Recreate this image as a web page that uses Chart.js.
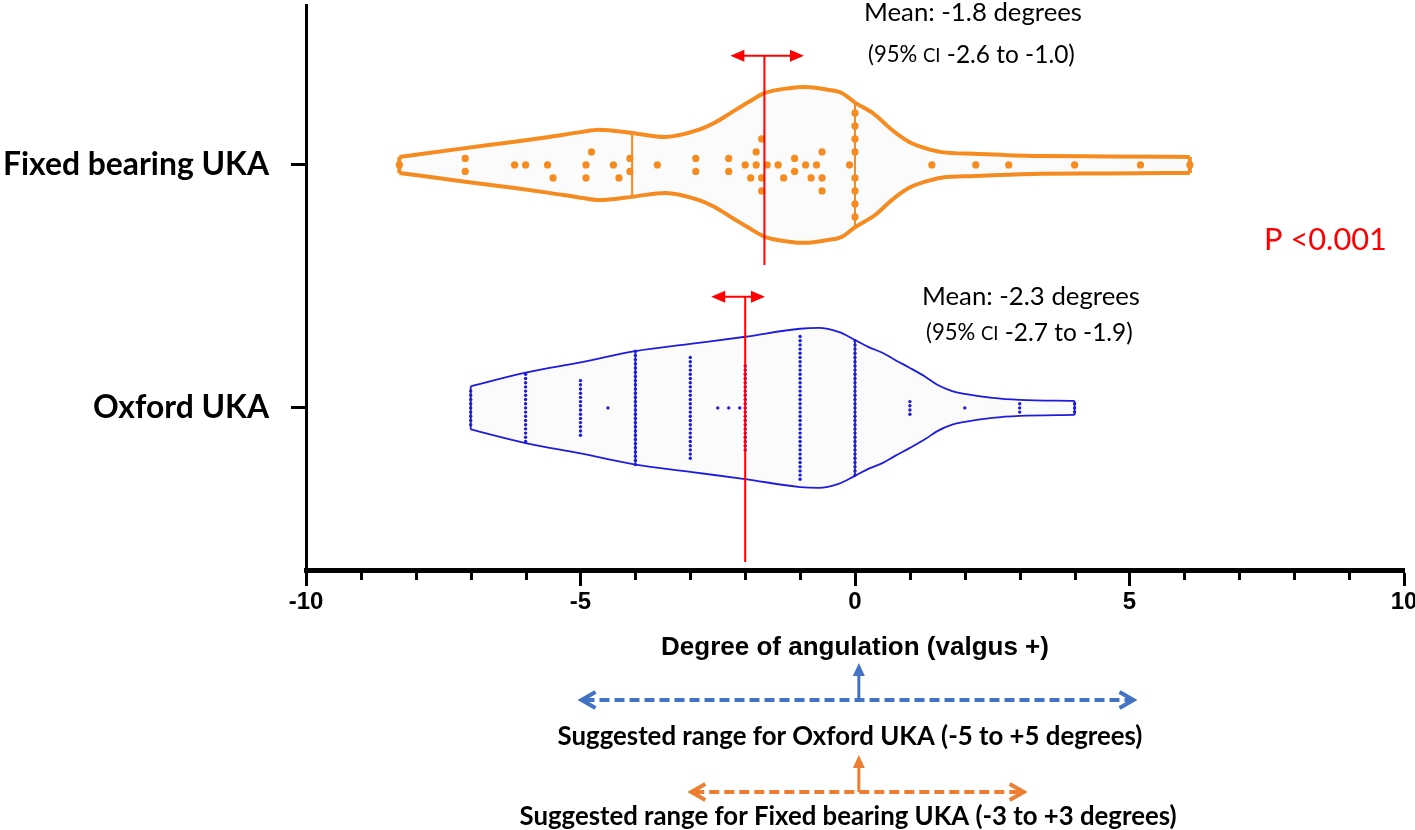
<!DOCTYPE html>
<html><head><meta charset="utf-8">
<script src="https://cdn.jsdelivr.net/npm/chart.js@4.4.0/dist/chart.umd.min.js"></script>
<style>html,body{margin:0;padding:0;background:#fff;overflow:hidden}</style>
</head><body>
<canvas id="c" width="1415" height="830"></canvas>
<script>
// ---------------- DATA ----------------
const categories = ['Oxford UKA', 'Fixed bearing UKA'];   // y = 0, 1
const xTickLabels = [-10, -5, 0, 5, 10];

const fixedValues = [-8.3, -7.1, -7.1, -6.2, -6.0, -5.6, -5.5, -4.9, -4.9, -4.8, -4.4, -4.3, -4.1, -4.1,
  -3.6, -2.9, -2.9, -2.3, -2.3, -2.0, -1.9, -1.8, -1.8, -1.7, -1.7, -1.7, -1.6, -1.4, -1.3, -1.1, -1.1,
  -0.9, -0.8, -0.7, -0.6, -0.6, -0.6, -0.1, 0, 0, 0, 0, 0, 0, 0, 0, 1.4, 2.2, 2.8, 4.0, 5.2, 6.1];

const oxfordValues = [-7, -6, -5, -4.5, -4, -3, -2.5, -2.3, -2.1, -2, -1, 0, 1, 2, 3, 4];
const oxfordCounts = [9, 17, 14, 1, 28, 25, 1, 1, 1, 21, 35, 33, 4, 1, 3, 3];

const fixedViolinX = [-8.3, -7.1, -6.2, -5.57, -5.0, -4.66, -4.06, -3.46, -2.84, -2.55, -2.24, -1.93, -1.64,
  -1.2, -0.91, -0.5, -0.24, 0, 0.36, 0.67, 0.98, 1.28, 1.58, 2.19, 3.4, 4.6, 6.1];
const fixedViolinDensity = [0.10, 0.21, 0.29, 0.35, 0.41, 0.44, 0.40, 0.35, 0.44, 0.53, 0.66, 0.79, 0.90,
  0.96, 0.975, 0.94, 0.90, 0.78, 0.63, 0.44, 0.29, 0.21, 0.16, 0.14, 0.11, 0.106, 0.10];

const oxfordViolinX = [-7, -6, -5, -4, -3, -2, -1, -0.66, -0.3, 0, 0.25, 0.5, 0.73, 1, 1.28, 1.5, 1.77, 2, 2.5, 3, 4];
const oxfordViolinDensity = [0.27, 0.44, 0.57, 0.71, 0.80, 0.89, 0.99, 1.0, 0.95, 0.85, 0.76, 0.69, 0.60,
  0.50, 0.39, 0.29, 0.21, 0.175, 0.125, 0.10, 0.0875];

const fixedQuartiles = [-4.06, 0];
const oxfordQuartiles = [-4, 0];
const fixedMeanMark = -1.65;
const fixedCIMark = [-2.27, -0.93];
const oxfordMeanMark = -2.0;
const oxfordCIMark = [-2.62, -1.64];
const oxfordRange = [-5, 5];
const fixedRange = [-3, 3];

const fixedMeanText = ['Mean: -1.8 degrees', '(95% ', 'CI', ' -2.6 to -1.0)'];
const oxfordMeanText = ['Mean: -2.3 degrees', '(95% ', 'CI', ' -2.7 to -1.9)'];
const pText = 'P <0.001';
const xTitle = 'Degree of angulation (valgus +)';
const oxfordRangeText = 'Suggested range for Oxford UKA (-5 to +5 degrees)';
const fixedRangeText = 'Suggested range for Fixed bearing UKA (-3 to +3 degrees)';

// ---------------- STYLE ----------------
const ORANGE = '#F68B1F', BLUE = '#1C1CE0', RED = '#FF0000';
const ARROW_BLUE = '#4472C4', ARROW_ORANGE = '#ED7D31';
const VIOLIN_HALF = 0.329;          // half-width (category units) for density 1
const CAL = 'Lato, "Open Sans", sans-serif';
const ARI = '"Liberation Sans", Arial, sans-serif';

const mctx = document.createElement('canvas').getContext('2d');
function fitSize(text, family, weight, target) {
  mctx.font = weight + ' 100px ' + family;
  return 100 * target / mctx.measureText(text).width;
}
const catSize = fitSize('Fixed bearing UKA', CAL, 'bold', 266);
const meanSize = fitSize(fixedMeanText[0], CAL, 'normal', 218);
const pSize = fitSize(pText, CAL, 'normal', 123);
const titleSize = fitSize(xTitle, ARI, 'bold', 388);
const rangeSize1 = fitSize(oxfordRangeText, CAL, 'bold', 585);
const rangeSize2 = fitSize(fixedRangeText, CAL, 'bold', 657);

function violinSets(xs, dens, center, color, width, order) {
  const top = xs.map((x, i) => ({x, y: center + dens[i] * VIOLIN_HALF}));
  const bot = xs.map((x, i) => ({x, y: center - dens[i] * VIOLIN_HALF}));
  const n = xs.length - 1;
  const base = {showLine: true, pointRadius: 0, borderColor: color, borderWidth: width, order, clip: false};
  return [
    Object.assign({}, base, {data: top, cubicInterpolationMode: 'monotone', fill: '+1', backgroundColor: 'rgba(140,140,140,0.035)'}),
    Object.assign({}, base, {data: bot, cubicInterpolationMode: 'monotone', fill: false}),
    Object.assign({}, base, {data: [top[0], bot[0]], fill: false}),
    Object.assign({}, base, {data: [top[n], bot[n]], fill: false})
  ];
}
function quartileSets(qs, xs, dens, center, color, width, order) {
  return qs.map(q => {
    const d = dens[xs.indexOf(q)];
    return {data: [{x: q, y: center + d * VIOLIN_HALF}, {x: q, y: center - d * VIOLIN_HALF}],
      showLine: true, pointRadius: 0, borderColor: color, borderWidth: width, fill: false, order};
  });
}
const datasets = [
  {data: [{x: fixedMeanMark, y: 1.449}, {x: fixedMeanMark, y: 0.588}], showLine: true, pointRadius: 0, borderColor: RED, borderWidth: 2, order: 0},
  {data: [{x: oxfordMeanMark, y: 0.457}, {x: oxfordMeanMark, y: -0.634}], showLine: true, pointRadius: 0, borderColor: RED, borderWidth: 2, order: 0},
  {data: [], pointRadius: 3.6, backgroundColor: ORANGE, borderWidth: 0, order: 1},
  {data: [], pointRadius: 1.7, backgroundColor: BLUE, borderWidth: 0, order: 1},
  ...quartileSets(fixedQuartiles, fixedViolinX, fixedViolinDensity, 1, ORANGE, 2, 2),
  ...quartileSets(oxfordQuartiles, oxfordViolinX, oxfordViolinDensity, 0, BLUE, 1.6, 2),
  ...violinSets(fixedViolinX, fixedViolinDensity, 1, ORANGE, 4, 3),
  ...violinSets(oxfordViolinX, oxfordViolinDensity, 0, BLUE, 1.8, 3)
];

function swarm(vals, spacing, D, pxX) {
  const sorted = vals.slice().sort((a, b) => a - b);
  const groups = [];
  for (const v of sorted) { const g = groups[groups.length - 1]; if (g && g.v === v) g.n++; else groups.push({v, n: 1}); }
  const placed = [];
  const collides = (xp, k) => placed.some(p => Math.hypot(p.x - xp, (p.k - k) * spacing) < D);
  const isolated = g => groups.every(h => h === g || Math.abs(h.v - g.v) * pxX >= D);
  const cands = [0]; for (let j = 1; j < 80; j++) cands.push(j, -j);
  for (const g of groups) {
    const xp = g.v * pxX;
    if (g.n > 1 && isolated(g)) {
      for (let i = 0; i < g.n; i++) placed.push({v: g.v, x: xp, k: i - (g.n - 1) / 2});
    } else {
      for (let i = 0; i < g.n; i++) {
        let k = 0;
        for (const c of cands) if (!collides(xp, c)) { k = c; break; }
        placed.push({v: g.v, x: xp, k});
      }
    }
  }
  return placed;
}

function drawArrowHeadFilled(ctx, x, y, dir, len, half) {
  ctx.beginPath(); ctx.moveTo(x, y); ctx.lineTo(x - dir * len, y - half); ctx.lineTo(x - dir * len, y + half); ctx.closePath(); ctx.fill();
}
function drawCI(ctx, chart, ci, yv) {
  const xs = chart.scales.x, ys = chart.scales.y;
  const a = xs.getPixelForValue(ci[0]), b = xs.getPixelForValue(ci[1]), y = ys.getPixelForValue(yv);
  ctx.strokeStyle = RED; ctx.fillStyle = RED; ctx.lineWidth = 2;
  ctx.beginPath(); ctx.moveTo(a + 8, y); ctx.lineTo(b - 8, y); ctx.stroke();
  drawArrowHeadFilled(ctx, a, y, -1, 14, 6);
  drawArrowHeadFilled(ctx, b, y, 1, 14, 6);
}
function drawMean(ctx, chart, lines, xv, y1v, y2v) {
  const xs = chart.scales.x, ys = chart.scales.y;
  const x = xs.getPixelForValue(xv);
  ctx.fillStyle = '#000'; ctx.textAlign = 'left'; ctx.textBaseline = 'middle';
  ctx.font = meanSize + 'px ' + CAL;
  ctx.fillText(lines[0], x, ys.getPixelForValue(y1v));
  const y2 = ys.getPixelForValue(y2v);
  const s1 = meanSize * 0.86, s2 = meanSize * 0.72, s3 = meanSize * 0.95;
  let cx = x + 4;
  ctx.font = s1 + 'px ' + CAL; ctx.fillText(lines[1], cx, y2); cx += ctx.measureText(lines[1]).width;
  ctx.font = s2 + 'px ' + CAL; ctx.fillText(lines[2], cx, y2 + 1); cx += ctx.measureText(lines[2]).width;
  ctx.font = s3 + 'px ' + CAL; ctx.fillText(lines[3], cx, y2);
}
function drawRange(ctx, chart, range, color, yDash, tipY, upX) {
  const xs = chart.scales.x;
  const a = xs.getPixelForValue(range[0]) + 1, b = xs.getPixelForValue(range[1]) + 4;
  const ux = xs.getPixelForValue(upX);
  ctx.strokeStyle = color; ctx.fillStyle = color; ctx.lineWidth = 4;
  ctx.setLineDash([10, 5]);
  ctx.beginPath(); ctx.moveTo(a + 3, yDash); ctx.lineTo(b - 3, yDash); ctx.stroke();
  ctx.setLineDash([]);
  ctx.lineJoin = 'miter';
  ctx.beginPath(); ctx.moveTo(a + 14, yDash - 8); ctx.lineTo(a, yDash); ctx.lineTo(a + 14, yDash + 8); ctx.stroke();
  ctx.beginPath(); ctx.moveTo(b - 14, yDash - 8); ctx.lineTo(b, yDash); ctx.lineTo(b - 14, yDash + 8); ctx.stroke();
  ctx.lineWidth = 3;
  ctx.beginPath(); ctx.moveTo(ux, yDash); ctx.lineTo(ux, tipY + 10); ctx.stroke();
  ctx.beginPath(); ctx.moveTo(ux, tipY); ctx.lineTo(ux - 6, tipY + 13); ctx.lineTo(ux + 6, tipY + 13); ctx.closePath(); ctx.fill();
}

const annot = {
  id: 'annot',
  afterDraw(chart) {
    const ctx = chart.ctx, xs = chart.scales.x, ys = chart.scales.y, area = chart.chartArea;
    ctx.save();
    // minor ticks
    ctx.strokeStyle = '#000'; ctx.lineWidth = 3;
    for (let v = -9; v <= 9; v++) {
      if (v % 5 === 0) continue;
      const x = Math.round(xs.getPixelForValue(v)) + 0.5;
      ctx.beginPath(); ctx.moveTo(x, area.bottom); ctx.lineTo(x, area.bottom + 10); ctx.stroke();
    }
    drawCI(ctx, chart, fixedCIMark, 1.449);
    drawCI(ctx, chart, oxfordCIMark, 0.457);
    drawMean(ctx, chart, fixedMeanText, 0.164, 1.626, 1.453);
    drawMean(ctx, chart, oxfordMeanText, 1.22, 0.457, 0.309);
    ctx.fillStyle = RED; ctx.textAlign = 'left'; ctx.textBaseline = 'middle';
    ctx.font = pSize + 'px ' + CAL;
    ctx.fillText(pText, xs.getPixelForValue(7.45), ys.getPixelForValue(0.691));
    // axis title
    ctx.fillStyle = '#000'; ctx.textAlign = 'center';
    ctx.font = 'bold ' + titleSize + 'px ' + ARI;
    ctx.fillText(xTitle, xs.getPixelForValue(0), area.bottom + 78);
    // suggested ranges
    drawRange(ctx, chart, oxfordRange, ARROW_BLUE, area.bottom + 130, area.bottom + 93, 0.07);
    ctx.fillStyle = '#000'; ctx.textAlign = 'center';
    ctx.font = 'bold ' + rangeSize1 + 'px ' + CAL;
    ctx.fillText(oxfordRangeText, 850, area.bottom + 167);
    drawRange(ctx, chart, fixedRange, ARROW_ORANGE, area.bottom + 222, area.bottom + 185, 0.07);
    ctx.fillStyle = '#000';
    ctx.font = 'bold ' + rangeSize2 + 'px ' + CAL;
    ctx.fillText(fixedRangeText, 848, area.bottom + 247);
    ctx.restore();
  }
};

const chart = new Chart(document.getElementById('c'), {
  type: 'scatter',
  data: {datasets},
  options: {
    responsive: false, animation: false, devicePixelRatio: 1,
    layout: {padding: {top: 5, right: 11, bottom: 200, left: 0}},
    plugins: {legend: {display: false}, tooltip: {enabled: false}},
    scales: {
      x: {
        type: 'linear', min: -10, max: 10,
        afterBuildTicks: s => { s.ticks = xTickLabels.map(v => ({value: v})); },
        ticks: {font: {family: ARI, weight: 'bold', size: 24}, color: '#000', padding: 2, maxRotation: 0, autoSkip: false},
        grid: {drawOnChartArea: false, drawTicks: true, tickLength: 16, tickWidth: 3, tickColor: '#000'},
        border: {display: true, width: 5, color: '#000'},
        afterFit: s => { s.height = 60; s.paddingLeft = 0; s.paddingRight = 0; }
      },
      y: {
        type: 'linear', min: -0.667, max: 1.658,
        afterBuildTicks: s => { s.ticks = categories.map((c, i) => ({value: i})); },
        ticks: {callback: v => categories[Math.round(v)], font: {family: CAL, weight: 'bold', size: catSize}, color: '#000', padding: 22},
        grid: {drawOnChartArea: false, drawTicks: true, tickLength: 15, tickWidth: 3, tickColor: '#000'},
        border: {display: true, width: 3, color: '#000'},
        afterFit: s => { s.width = 306; s.paddingTop = 0; s.paddingBottom = 0; }
      }
    }
  },
  plugins: [annot]
});

// second pass: beeswarm offsets using the library's scales
(function () {
  const xs = chart.scales.x, ys = chart.scales.y;
  const pxX = xs.getPixelForValue(1) - xs.getPixelForValue(0);
  const pxY = ys.getPixelForValue(0) - ys.getPixelForValue(1);
  const fx = swarm(fixedValues, 13, 9.5, pxX).map(p => ({x: p.v, y: 1 - p.k * 13 / pxY}));
  const oxObs = [];
  oxfordValues.forEach((v, i) => { for (let j = 0; j < oxfordCounts[i]; j++) oxObs.push(v); });
  const ox = swarm(oxObs, 4.2, 4, pxX).map(p => ({x: p.v, y: 0 - p.k * 4.2 / pxY}));
  chart.data.datasets[2].data = fx;
  chart.data.datasets[3].data = ox;
  chart.update('none');
})();
</script>
</body></html>
